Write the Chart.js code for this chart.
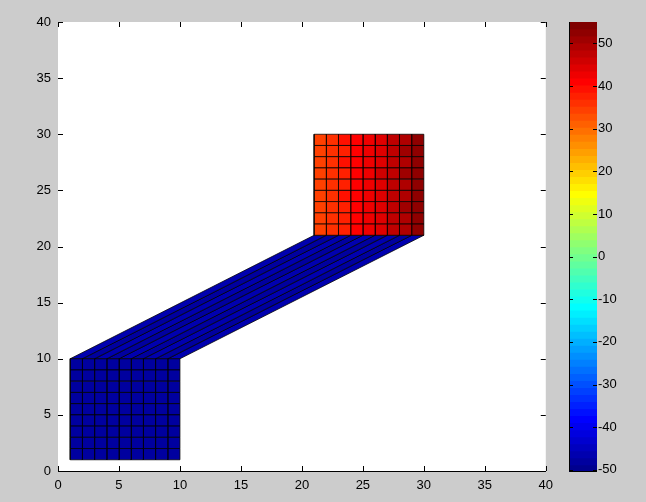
<!DOCTYPE html>
<html><head><meta charset="utf-8">
<script src="https://cdn.jsdelivr.net/npm/chart.js@4.4.0/dist/chart.umd.min.js"></script>
<style>
html,body{margin:0;padding:0;background:#cccccc;width:646px;height:502px;overflow:hidden;}
canvas{position:absolute;top:0;}
#main{left:0;}
#cbar{left:560px;}
</style></head><body>
<canvas id="main" width="560" height="502"></canvas>
<canvas id="cbar" width="86" height="502"></canvas>
<script>
// ---- data ----
const xTicks = [0, 5, 10, 15, 20, 25, 30, 35, 40];
const yTicks = [0, 5, 10, 15, 20, 25, 30, 35, 40];
const colorbarTicks = [-50, -40, -30, -20, -10, 0, 10, 20, 30, 40, 50];
const colorLimits = [-50.5, 55];
const colormapSize = 64;

// lower-left corners (data units) of the two 9x9 blocks
const blockAOrigin = [1, 1];
const blockBOrigin = [21, 21];
// cell values, row 0 = bottom row, column 0 = left column
const blockAValues = [
  [-47.6, -48.1, -47.4, -48.3, -47.7, -48.0, -47.3, -48.2, -47.8],
  [-48.0, -47.5, -48.2, -47.6, -48.4, -47.5, -48.0, -47.6, -48.1],
  [-47.4, -48.3, -47.7, -48.1, -47.5, -48.2, -47.6, -48.3, -47.5],
  [-48.2, -47.6, -48.0, -47.4, -48.1, -47.7, -48.3, -47.5, -48.0],
  [-47.7, -48.1, -47.5, -48.3, -47.6, -48.0, -47.4, -48.1, -47.6],
  [-48.1, -47.5, -48.2, -47.7, -48.0, -47.4, -48.2, -47.7, -48.3],
  [-47.5, -48.2, -47.6, -48.0, -47.5, -48.3, -47.7, -48.0, -47.6],
  [-48.0, -47.7, -48.3, -47.5, -48.2, -47.6, -48.1, -47.4, -48.0],
  [-47.6, -48.0, -47.5, -48.1, -47.7, -48.2, -47.5, -48.0, -47.7]
];
const blockBValues = [
  [34.2, 36.3, 38.2, 40.3, 42.3, 44.8, 47.2, 49.8, 52.8],
  [34.5, 36.5, 38.5, 40.5, 42.5, 45.0, 47.5, 50.0, 53.0],
  [34.4, 36.6, 38.4, 40.6, 42.4, 45.1, 47.4, 50.1, 52.9],
  [34.6, 36.4, 38.6, 40.4, 42.6, 44.9, 47.6, 49.9, 53.1],
  [34.5, 36.5, 38.5, 40.5, 42.5, 45.0, 47.5, 50.0, 53.0],
  [34.7, 36.6, 38.4, 40.6, 42.4, 45.2, 47.4, 50.2, 53.2],
  [34.5, 36.4, 38.6, 40.5, 42.6, 45.0, 47.6, 50.0, 53.0],
  [34.8, 36.7, 38.5, 40.7, 42.5, 45.1, 47.5, 50.1, 53.3],
  [34.6, 36.5, 38.7, 40.5, 42.7, 45.0, 47.7, 50.0, 53.1]
];
// sloping connector: 9 strips from the top of block A to the bottom of block B
const bridgeStart = [1, 10];
const bridgeEnd = [21, 21];
const bridgeValues = [-47.2, -47.4, -47.1, -47.5, -47.2, -47.3, -47.1, -47.4, -47.2];

// ---- colormap (MATLAB jet, 64 levels) ----
function clamp01(v) { return Math.max(0, Math.min(1, v)); }
function jetIndex(v) {
  const t = (v - colorLimits[0]) / (colorLimits[1] - colorLimits[0]);
  return Math.max(0, Math.min(colormapSize - 1, Math.floor(t * colormapSize)));
}
function jetColorByIndex(i) {
  const f = (i + 1) / colormapSize;
  const r = clamp01(1.5 - Math.abs(4 * f - 3));
  const g = clamp01(1.5 - Math.abs(4 * f - 2));
  const b = clamp01(1.5 - Math.abs(4 * f - 1));
  return 'rgb(' + Math.round(r * 255) + ',' + Math.round(g * 255) + ',' + Math.round(b * 255) + ')';
}
function jet(v) { return jetColorByIndex(jetIndex(v)); }

// ---- build polygon datasets ----
function poly(points, value) {
  const pts = points.concat([points[0]]).map(p => ({x: p[0], y: p[1]}));
  return {
    data: pts, showLine: true, fill: 'shape', tension: 0,
    backgroundColor: jet(value), borderColor: 'rgba(0,0,0,0.85)', borderWidth: 0.9,
    pointRadius: 0, pointHoverRadius: 0, borderJoinStyle: 'miter'
  };
}
const datasets = [];
function addBlock(origin, values) {
  values.forEach((row, r) => row.forEach((v, c) => {
    const x0 = origin[0] + c, y0 = origin[1] + r;
    datasets.push(poly([[x0, y0], [x0 + 1, y0], [x0 + 1, y0 + 1], [x0, y0 + 1]], v));
  }));
}
addBlock(blockAOrigin, blockAValues);
addBlock(blockBOrigin, blockBValues);
bridgeValues.forEach((v, k) => {
  datasets.push(poly([
    [bridgeStart[0] + k, bridgeStart[1]], [bridgeStart[0] + k + 1, bridgeStart[1]],
    [bridgeEnd[0] + k + 1, bridgeEnd[1]], [bridgeEnd[0] + k, bridgeEnd[1]]
  ], v));
});

const tickFont = {family: '"Liberation Sans", Arial, sans-serif', size: 13};
const TL = 5;

const mainPlugin = {
  id: 'matlabAxes',
  beforeDatasetsDraw(chart) {
    const a = chart.chartArea, ctx = chart.ctx;
    ctx.save(); ctx.fillStyle = '#ffffff';
    ctx.fillRect(a.left, a.top, a.right - a.left, a.bottom - a.top);
    ctx.restore();
  },
  afterDraw(chart) {
    const a = chart.chartArea, ctx = chart.ctx;
    const xs = chart.scales.x, ys = chart.scales.y;
    ctx.save(); ctx.strokeStyle = '#000'; ctx.lineWidth = 1;
    ctx.beginPath();
    xTicks.forEach(v => {
      const px = Math.round(xs.getPixelForValue(v)) + 0.5;
      ctx.moveTo(px, a.bottom); ctx.lineTo(px, a.bottom - TL);
      ctx.moveTo(px, a.top); ctx.lineTo(px, a.top + TL);
    });
    yTicks.forEach(v => {
      const py = Math.round(ys.getPixelForValue(v)) + 0.5;
      ctx.moveTo(a.left, py); ctx.lineTo(a.left + TL, py);
      ctx.moveTo(a.right, py); ctx.lineTo(a.right - TL, py);
    });
    ctx.stroke();
    ctx.restore();
  }
};

new Chart(document.getElementById('main'), {
  type: 'scatter',
  data: {datasets},
  options: {
    responsive: false, animation: false,
    layout: {padding: {left: 0, top: 22, right: 12, bottom: 0}},
    plugins: {legend: {display: false}, tooltip: {enabled: false}},
    events: [],
    scales: {
      x: {
        type: 'linear', min: 0, max: 40,
        afterBuildTicks: s => { s.ticks = xTicks.map(v => ({value: v})); },
        afterFit: s => { s.height = 31; },
        grid: {display: true, drawOnChartArea: false, drawTicks: false},
        border: {display: true, color: '#000', width: 1},
        ticks: {color: '#000', font: tickFont, padding: 7, maxRotation: 0, autoSkip: false}
      },
      y: {
        type: 'linear', min: 0, max: 40,
        afterBuildTicks: s => { s.ticks = yTicks.map(v => ({value: v})); },
        afterFit: s => { s.width = 58; },
        grid: {display: true, drawOnChartArea: false, drawTicks: false},
        border: {display: true, color: '#000', width: 1},
        ticks: {color: '#000', font: tickFont, padding: 7, autoSkip: false}
      }
    }
  },
  plugins: [mainPlugin]
});

// ---- colorbar ----
const cbDatasets = [];
for (let i = 0; i < colormapSize; i++) {
  const lo = colorLimits[0] + (colorLimits[1] - colorLimits[0]) * i / colormapSize;
  cbDatasets.push({
    data: [[lo, colorLimits[1]]], backgroundColor: jetColorByIndex(i),
    borderWidth: 0, grouped: false, barPercentage: 1, categoryPercentage: 1,
    order: -i
  });
}
const cbPlugin = {
  id: 'cbAxes',
  afterDraw(chart) {
    const a = chart.chartArea, ctx = chart.ctx, ys = chart.scales.y;
    ctx.save(); ctx.strokeStyle = '#000'; ctx.lineWidth = 1;
    ctx.beginPath();
    const l = Math.round(a.left) + 0.5, b = Math.round(a.bottom) - 0.5;
    ctx.moveTo(l, a.top); ctx.lineTo(l, b); ctx.lineTo(a.right, b);
    colorbarTicks.forEach(v => {
      const py = Math.round(ys.getPixelForValue(v)) + 0.5;
      ctx.moveTo(a.left, py); ctx.lineTo(a.left + 4, py);
      ctx.moveTo(a.right, py); ctx.lineTo(a.right - 4, py);
    });
    ctx.stroke();
    ctx.restore();
  }
};
new Chart(document.getElementById('cbar'), {
  type: 'bar',
  data: {labels: ['c'], datasets: cbDatasets},
  options: {
    responsive: false, animation: false,
    layout: {padding: {left: 9, top: 22, right: 0, bottom: 30}},
    plugins: {legend: {display: false}, tooltip: {enabled: false}},
    events: [],
    scales: {
      x: {display: false},
      y: {
        position: 'right', type: 'linear', min: colorLimits[0], max: colorLimits[1],
        afterBuildTicks: s => { s.ticks = colorbarTicks.map(v => ({value: v})); },
        afterFit: s => { s.width = 49; },
        grid: {display: false, drawTicks: false},
        border: {display: false},
        ticks: {color: '#000', font: tickFont, padding: 1, crossAlign: 'near', autoSkip: false}
      }
    }
  },
  plugins: [cbPlugin]
});
</script>
</body></html>
